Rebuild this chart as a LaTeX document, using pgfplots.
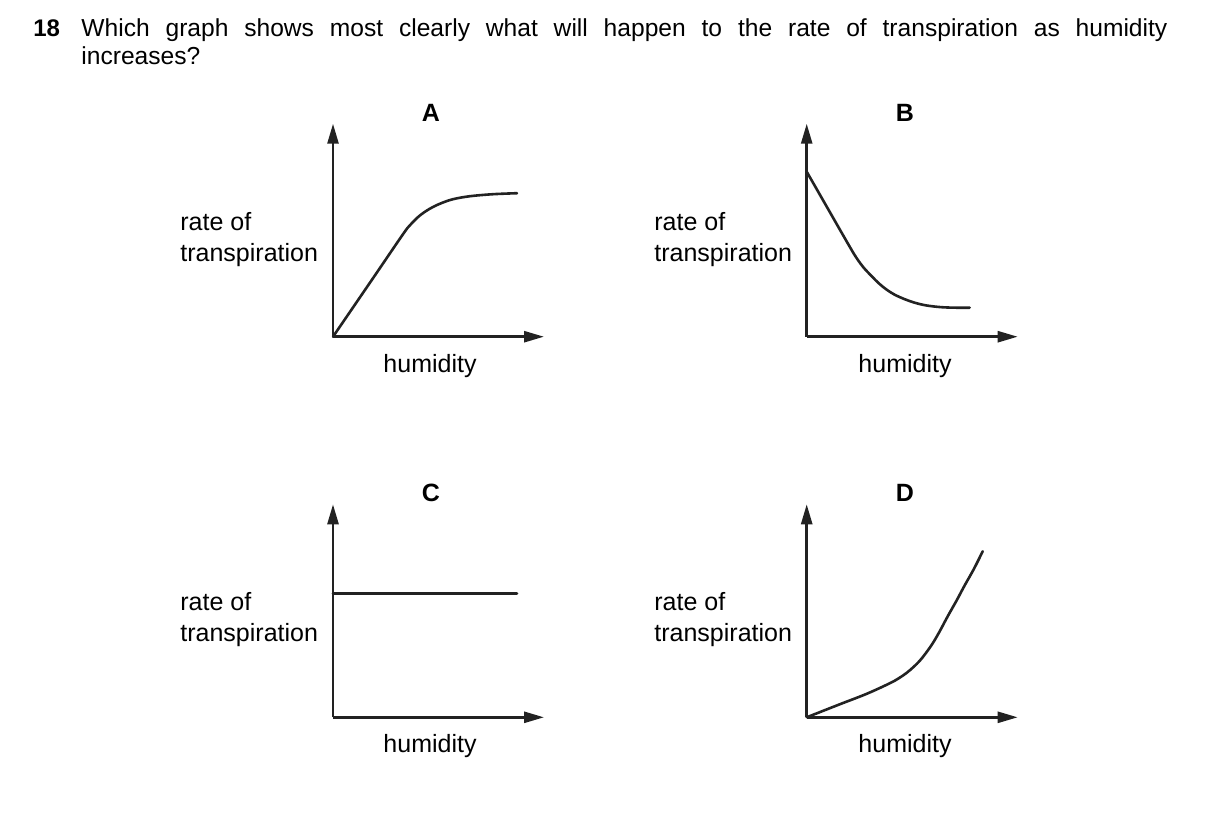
\documentclass[border=0pt]{standalone}
\usepackage{pgfplots}
\pgfplotsset{compat=1.18}
\usetikzlibrary{arrows.meta}
\usepackage{fontspec}
\setmainfont{Liberation Sans}
\definecolor{ink}{HTML}{222222}
\pgfplotsset{
  qaxis/.style={
    axis lines=left,
    xmin=0, xmax=211, ymin=0, ymax=213,
    scale only axis, width=105.5pt, height=106.5pt,
    ticks=none, anchor=origin, clip=false,
    axis line style={line width=1.3pt, ink, -{Triangle[length=10pt,width=5.5pt]}},
  },
  curve/.style={line width=1.3pt, ink, no marks, line join=round, line cap=round, smooth, tension=0.55},
}
\begin{document}
\begin{tikzpicture}
\path[use as bounding box] (0,0) rectangle (604.5pt,-407.5pt);

% A
\begin{axis}[qaxis, at={(166.5pt,-168.35pt)}]
\addplot[curve] coordinates {
 (0,0) (40,58.5) (70,102.5) (77,111.5) (86,120.5) (96,127.5) (107,133)
 (120,137.5) (137,140.5) (160,142.5) (184,143.5)};
\end{axis}

% B
\begin{axis}[qaxis, at={(403.35pt,-168.35pt)}]
\addplot[curve] coordinates {
 (0,165) (22,126.6) (43,90) (50,78.5) (57,69) (65,60.5) (72,53.5) (80,47)
 (88,42) (98,37.5) (108,34) (120,31.2) (135,29.5) (150,29) (163,29)};
\end{axis}

% C
\begin{axis}[qaxis, at={(166.5pt,-358.65pt)}]
\addplot[curve, smooth=false, sharp plot] coordinates {(0,124) (184,124)};
\end{axis}

% D
\begin{axis}[qaxis, at={(403.35pt,-358.65pt)}]
\addplot[curve] coordinates {
 (0,0) (33,13) (60,23.5) (83,34) (92,39) (100,44.5) (107,50.5) (113,56.5)
 (119,64) (126,74) (133,86) (141,101) (150,117) (158,132) (167,148) (176,166)};
\end{axis}

\begin{scope}[x=0.5pt,y=-0.5pt, every node/.style={inner sep=0pt, text=black}]
% title
\node[anchor=base west, font=\fontsize{12}{14}\selectfont\bfseries] at (33,36) {18};
\node[anchor=base west, font=\fontsize{12.3}{14}\selectfont] at (81,36)
  {\makebox[543pt][s]{Which graph shows most clearly what will happen to the rate of transpiration as humidity}};
\node[anchor=base west, font=\fontsize{12.3}{14}\selectfont] at (81,64.3) {increases?};

% panel letters
\foreach \lx/\ly/\lt in {431/121/A, 905/121/B, 431/501.6/C, 905/501.6/D}
  \node[anchor=base, font=\fontsize{12.5}{15}\selectfont\bfseries] at (\lx,\ly) {\lt};

% x labels
\foreach \lx/\ly in {430/372, 905/372, 430/752.6, 905/752.6}
  \node[anchor=base, font=\fontsize{12.5}{15}\selectfont] at (\lx,\ly) {humidity};

% y labels
\foreach \lx/\ly in {180/230, 654/230, 180/610.6, 654/610.6}{
  \node[anchor=base west, font=\fontsize{12.5}{15}\selectfont] at (\lx,\ly) {rate of};
  \node[anchor=base west, font=\fontsize{12.5}{15}\selectfont] at (\lx,\ly+31) {transpiration};
}
\end{scope}
\end{tikzpicture}
\end{document}
